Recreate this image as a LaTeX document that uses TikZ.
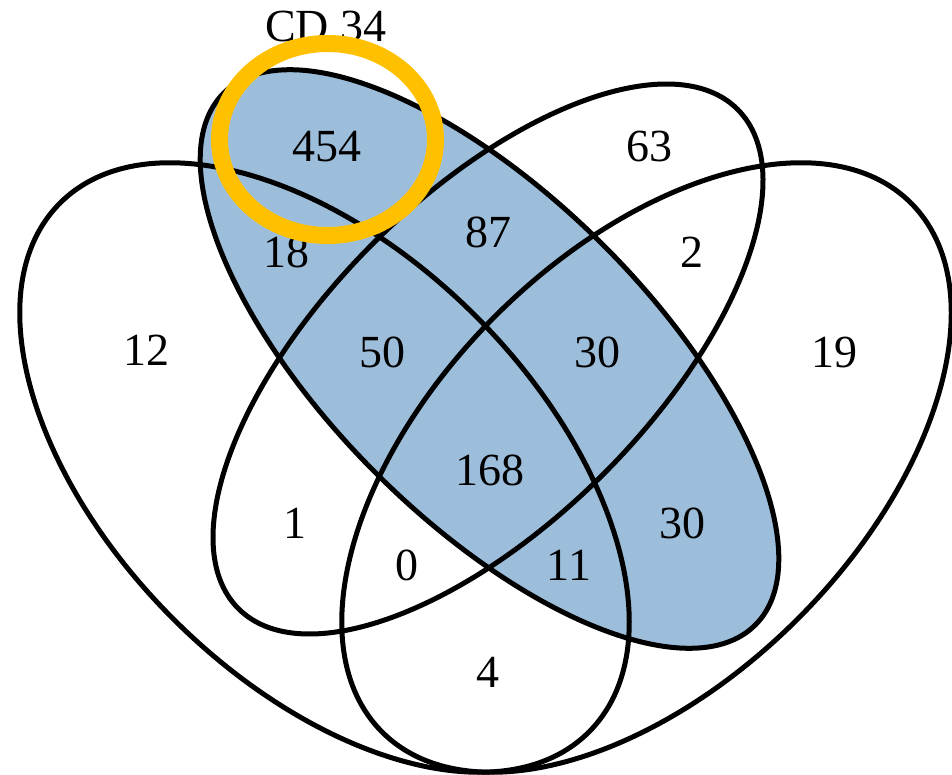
\documentclass[tikz,border=0pt]{standalone}
\usepackage{fontspec}
\setmainfont{Liberation Serif}
\definecolor{vblue}{RGB}{157,190,219}
\definecolor{ringyellow}{RGB}{255,192,0}
\begin{document}
\begin{tikzpicture}[x=1pt,y=-1pt,
  setline/.style={draw=black,line width=5pt},
  lab/.style={font=\fontsize{46}{50}\selectfont,inner sep=0pt,anchor=base}]
\useasboundingbox (0,0) rectangle (952,775);
\coordinate (cB) at (489.5,359);
\coordinate (cO) at (488,359);
\coordinate (cL) at (324.5,467.5);
\coordinate (cR) at (646.5,467.5);
\coordinate (cY) at (327.5,139.5);
% blue fill (CD 34)
\fill[vblue, rotate around={-45:(cB)}] (cB) ellipse [x radius=376pt, y radius=161pt];
% outlines
\draw[setline, rotate around={-45:(cL)}] (cL) ellipse [x radius=374pt, y radius=214pt];
\draw[setline, rotate around={45:(cR)}] (cR) ellipse [x radius=374pt, y radius=214pt];
\draw[setline, rotate around={-45:(cB)}] (cB) ellipse [x radius=376pt, y radius=161pt];
\draw[setline, rotate around={45:(cO)}] (cO) ellipse [x radius=353pt, y radius=163pt];
% labels
\node[lab] (tcd) at (326,42) {CD 34};
\node[lab] (n454) at (327,162) {454};
\node[lab] (n18) at (286,268) {18};
\node[lab] (n12) at (146,365) {12};
\node[lab] (n50) at (382,367) {50};
\node[lab] (n87) at (488,248) {87};
\node[lab] (n63) at (649,162) {63};
\node[lab] (n2) at (692,268) {2};
\node[lab] (n30a) at (597,367) {30};
\node[lab] (n19) at (834,367) {19};
\node[lab] (n168) at (490,485) {168};
\node[lab] (n1) at (295,538) {1};
\node[lab] (n0) at (407,580) {0};
\node[lab] (n11) at (569,580) {11};
\node[lab] (n30b) at (682,538) {30};
\node[lab] (n4) at (488,687) {4};
% highlight ring
\draw[draw=ringyellow, line width=17pt] (cY) ellipse [x radius=108pt, y radius=96pt];
\end{tikzpicture}
\end{document}
